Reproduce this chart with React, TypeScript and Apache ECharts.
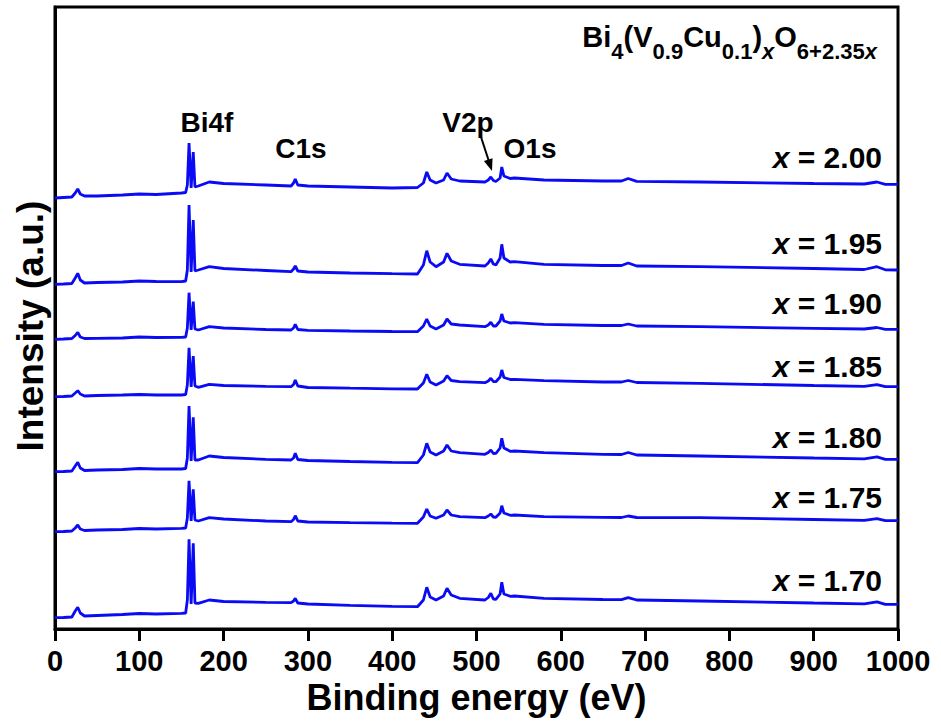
import React, { useEffect, useRef } from 'react';
import * as echarts from 'echarts';

// Binding energy grid (eV), shared by all spectra
const energy = [0, 10, 20, 24, 27, 30, 35, 50, 80, 100, 120, 150, 155, 157, 159, 161.5, 164, 166, 170, 183, 200, 250, 280, 283, 285, 288, 300, 350, 400, 430, 437, 441, 445, 452, 461, 465, 470, 480, 510, 514, 517, 520, 523, 528, 530, 532.5, 540, 545, 580, 650, 672, 680, 690, 765, 900, 960, 975, 985, 1000];

// Intensities (a.u., offset-stacked as in the figure)
const s200 = [431, 431.5, 432, 436, 440, 435, 433, 433, 434, 435, 434.5, 436, 436.5, 444, 486, 441, 477, 442, 443, 447, 445.5, 444, 443, 446, 450, 444, 443, 442, 441, 441.5, 446, 457, 449, 446, 449, 456, 450, 448, 447, 449, 452, 448.5, 447.5, 451, 462, 453, 450.5, 451, 449, 448, 448, 450.5, 447.7, 447, 445.5, 445, 447, 444.7, 444.7];
const s195 = [344.7, 345, 345.5, 351, 355.7, 349, 346, 346.5, 347, 348, 347.5, 347.3, 348, 359, 424, 357, 409, 358, 359, 362.3, 360.5, 358.5, 357.3, 360, 363, 358, 357, 356, 355.3, 355, 364, 378.3, 367, 362.3, 367, 375.7, 368, 364.7, 363, 366, 370, 365, 364, 371, 384.7, 371, 367, 367.3, 364.7, 363.5, 363.5, 366, 363, 362.3, 360.5, 359.5, 362.3, 359.2, 359];
const s190 = [289.7, 290, 290.5, 293.5, 296.7, 292, 290.5, 290.7, 291, 292, 291.5, 291.7, 292, 301, 336.3, 299, 327.3, 300, 299, 302.3, 301, 299.5, 299, 301, 304.7, 299.5, 298.7, 298, 297.5, 297.3, 303, 310, 303, 300, 304, 310, 305, 304, 302.3, 304, 306.7, 303, 303, 308, 315, 308, 306, 306.3, 304.7, 303.5, 303.5, 305, 303, 302.3, 300.7, 300, 301.5, 299.7, 299.7];
const s185 = [232.3, 232.5, 233, 236, 238.3, 235, 233, 233.5, 234, 234.5, 234, 234, 234.5, 244, 281.3, 242, 273, 243, 241.7, 244.7, 243.5, 242.7, 242.3, 244.5, 249, 243, 241.5, 240.8, 240.2, 240, 246, 254.7, 247, 244, 248, 253.3, 248.5, 247.3, 246.3, 248, 250.7, 247.5, 247.3, 252, 259, 251.5, 249.5, 249.7, 248.3, 247, 247, 248.5, 246.5, 245.7, 243.5, 242.7, 244.3, 242.3, 242.3];
const s180 = [157.3, 157.5, 158, 163, 166.7, 161, 158.5, 159, 159.5, 160.5, 160, 160, 160.5, 171, 223, 168, 211.7, 169, 169, 173, 171.5, 169.7, 169, 171, 175.7, 169.5, 168.5, 167.5, 166.7, 166.3, 174, 185.7, 177, 174, 178, 184, 178, 176.3, 174.7, 176.5, 179, 175.5, 175.7, 181, 190.7, 181, 177.7, 178, 176.3, 174.7, 174.5, 176.5, 174, 173, 171, 170.2, 172.2, 169.7, 169.7];
const s175 = [97.3, 97.5, 98, 101, 104, 100, 98.5, 99, 99.5, 100.5, 100, 100.7, 101, 111, 148.3, 108, 139.7, 109, 108, 111.3, 110, 108, 107.3, 109.5, 113.3, 108, 107, 106.3, 105.8, 105.7, 112, 120, 113, 110.7, 114, 119, 114, 112.3, 111.3, 113, 115, 112, 111.7, 116, 123.3, 116, 113.7, 114, 112.3, 111.7, 111.5, 113, 111.5, 111.3, 109.5, 108.7, 110.3, 108.3, 108.3];
const s170 = [11.3, 11.5, 12, 18, 21.7, 16, 13, 13.5, 14.5, 15.5, 15, 15.7, 16, 29, 89.7, 25, 85.7, 26, 25.7, 29, 27.5, 26.7, 26.3, 28, 30.7, 26, 25, 23.7, 22.7, 22.3, 29, 41.7, 32, 29, 33, 40.7, 34, 30.7, 29, 31.5, 35.7, 30, 29.7, 35, 46.7, 35, 32.7, 33, 30.7, 29.5, 29.3, 31.3, 29, 28, 26, 25.2, 27.2, 24.7, 24.7];

const compositions = ['2.00', '1.95', '1.90', '1.85', '1.80', '1.75', '1.70'];
const spectra = [s200, s195, s190, s185, s180, s175, s170];
const peakLabels = ['Bi4f', 'C1s', 'V2p', 'O1s'];

const FONT = '"Liberation Sans", Arial, Helvetica, sans-serif';
const LINE_COLOR = '#0a0af5';

export default function App() {
  const ref = useRef<HTMLDivElement>(null);

  useEffect(() => {
    if (!ref.current) return;
    const chart = echarts.init(ref.current, undefined, { renderer: 'svg' });

    const labelY = [157, 243, 303, 366, 437.5, 497, 580];
    const peakPos = [
      [207, 122],
      [301, 148],
      [468, 122],
      [530, 148],
    ];

    const graphic: any[] = [];
    peakLabels.forEach((t, i) => {
      graphic.push({
        type: 'text',
        x: peakPos[i][0],
        y: peakPos[i][1],
        silent: true,
        style: {
          text: t,
          fill: '#000',
          fontSize: 28,
          fontWeight: 'bold',
          fontFamily: FONT,
          align: 'center',
          verticalAlign: 'middle',
          textAlign: 'center',
          textVerticalAlign: 'middle',
        },
      });
    });
    compositions.forEach((c, i) => {
      graphic.push({
        type: 'text',
        x: 882,
        y: labelY[i],
        silent: true,
        style: {
          text: '{i|x} = ' + c,
          fill: '#000',
          fontSize: 30,
          fontWeight: 'bold',
          fontFamily: FONT,
          align: 'right',
          verticalAlign: 'middle',
          textAlign: 'right',
          textVerticalAlign: 'middle',
          rich: {
            i: { fontSize: 30, fontWeight: 'bold', fontStyle: 'italic', fontFamily: FONT, fill: '#000' },
          },
        },
      });
    });
    // formula title
    graphic.push({
      type: 'text',
      x: 877,
      y: 22,
      silent: true,
      style: {
        text: '{b|Bi}{s|4}{b|(V}{s|0.9}{b|Cu}{s|0.1}{b|)}{si|x}{b|O}{s|6+2.35}{si|x}',
        fill: '#000',
        align: 'right',
        verticalAlign: 'top',
        textAlign: 'right',
        textVerticalAlign: 'top',
        rich: {
          b: { fontSize: 29, fontWeight: 'bold', fontFamily: FONT, fill: '#000', lineHeight: 40, verticalAlign: 'top' },
          s: { fontSize: 22, fontWeight: 'bold', fontFamily: FONT, fill: '#000', lineHeight: 28, verticalAlign: 'bottom' },
          si: { fontSize: 22, fontWeight: 'bold', fontStyle: 'italic', fontFamily: FONT, fill: '#000', lineHeight: 28, verticalAlign: 'bottom' },
        },
      },
    });
    // arrow to V2p
    graphic.push({
      type: 'line',
      silent: true,
      shape: { x1: 481, y1: 137, x2: 488.5, y2: 160 },
      style: { stroke: '#000', lineWidth: 2 },
    });
    graphic.push({
      type: 'polygon',
      silent: true,
      shape: { points: [[492, 171], [492.5, 158.2], [483.9, 161]] },
      style: { fill: '#000' },
    });

    const option: any = {
      animation: false,
      backgroundColor: '#fff',
      grid: {
        left: 55,
        right: 43,
        top: 7,
        bottom: 98,
        show: true,
        borderColor: '#000',
        borderWidth: 3,
        backgroundColor: 'transparent',
      },
      xAxis: {
        type: 'value',
        min: 0,
        max: 1000,
        interval: 100,
        name: 'Binding energy (eV)',
        nameLocation: 'middle',
        nameGap: 46,
        nameTextStyle: { fontSize: 36, fontWeight: 'bold', color: '#000', fontFamily: FONT },
        axisLine: { show: true, lineStyle: { color: '#000', width: 3 } },
        axisTick: { show: true, length: 12, lineStyle: { color: '#000', width: 3 } },
        axisLabel: {
          fontSize: 29,
          fontWeight: 'bold',
          color: '#000',
          fontFamily: FONT,
          margin: 17,
          formatter: (v: number) => String(v),
        },
        splitLine: { show: false },
      },
      yAxis: {
        type: 'value',
        min: 0,
        max: 622,
        name: 'Intensity (a.u.)',
        nameLocation: 'middle',
        nameGap: 6,
        nameRotate: 90,
        nameTextStyle: { fontSize: 37, fontWeight: 'bold', color: '#000', fontFamily: FONT, padding: [0, 16, 0, 0] },
        axisLine: { show: true, lineStyle: { color: '#000', width: 3 } },
        axisTick: { show: false },
        axisLabel: { show: false },
        splitLine: { show: false },
      },
      series: spectra.map((vals, k) => ({
        type: 'line',
        name: 'x = ' + compositions[k],
        data: energy.map((e, i) => [e, vals[i]]),
        showSymbol: false,
        symbol: 'none',
        lineStyle: { color: LINE_COLOR, width: 2.8 },
        silent: true,
      })),
      graphic,
    };

    chart.setOption(option);
    return () => chart.dispose();
  }, []);

  return (
    <div
      ref={ref}
      style={{ position: 'absolute', left: 0, top: 0, width: 941, height: 727, background: '#fff' }}
    />
  );
}
